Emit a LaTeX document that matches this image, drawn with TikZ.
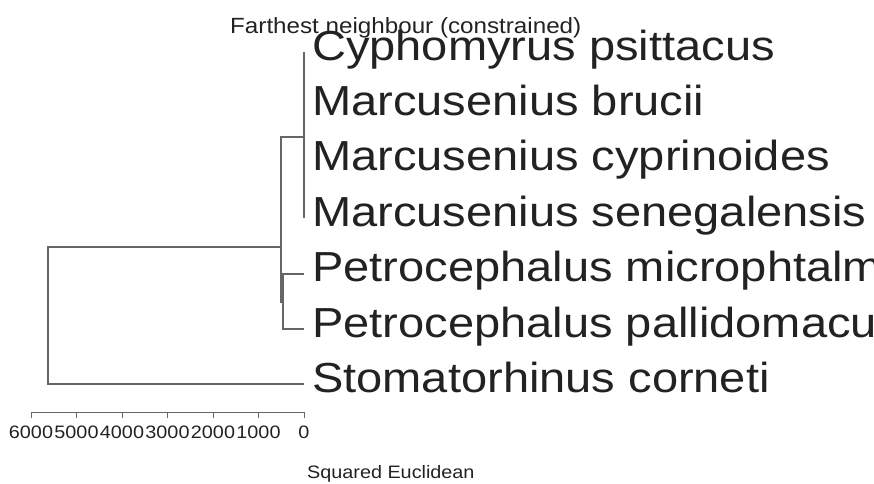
\documentclass[tikz,border=0pt]{standalone}
\usepackage{fontspec}
\setmainfont{Liberation Sans}[FakeStretch=1.1]
\newfontfamily\leaffont{Liberation Sans}[FakeStretch=1.12]
\definecolor{txt}{HTML}{222222}
\definecolor{ln}{HTML}{666666}
\tikzset{
  leaflab/.style={anchor=base west, inner sep=0pt, text=txt, font=\leaffont\fontsize{42}{42}\selectfont},
  ticklab/.style={anchor=base, inner sep=0pt, text=txt, font=\fontsize{18}{18}\selectfont},
  smalllab/.style={anchor=base west, inner sep=0pt, text=txt, font=\fontsize{18}{18}\selectfont},
  titlelab/.style={anchor=base west, inner sep=0pt, text=txt, font=\fontsize{22}{22}\selectfont},
  branch/.style={draw=ln, line width=1.1pt},
}
\begin{document}
\begin{tikzpicture}[x=1pt,y=-1pt]
\useasboundingbox (0,0) rectangle (874,483);
\clip (0,0) rectangle (874,483);
% title
\node[titlelab] (title) at (230,33) {Farthest neighbour (constrained)};
% leaf labels
\node[leaflab] (lab1) at (312,60) {Cyphomyrus psittacus};
\node[leaflab] (lab2) at (312,115) {Marcusenius brucii};
\node[leaflab] (lab3) at (312,170.5) {Marcusenius cyprinoides};
\node[leaflab] (lab4) at (312,226) {Marcusenius senegalensis};
\node[leaflab] (lab5) at (312,281.5) {Petrocephalus microphtalm};
\node[leaflab] (lab6) at (312,337) {Petrocephalus pallidomacu};
\node[leaflab] (lab7) at (312,392) {Stomatorhinus corneti};
% leaf points
\coordinate (L1) at (304,52);
\coordinate (L4) at (304,218);
\coordinate (L5) at (304,274);
\coordinate (L6) at (304,329);
\coordinate (L7) at (304,384);
% internal nodes
\coordinate (M) at (304,137);
\coordinate (P) at (283,302);
\coordinate (A) at (281,247);
\coordinate (R) at (48,315);
\draw[branch] (L1) -- (L4);
\draw[branch] (L5) -| (P) |- (L6);
\draw[branch] (M) -| (A) |- (P);
\draw[branch] (A) -| (R) |- (L7);
% axis
\coordinate (ax0) at (31,412);
\coordinate (ax1) at (304,412);
\draw[branch, line width=1pt] (ax0) -- (ax1);
\foreach \v [count=\i from 0] in {6000,5000,4000,3000,2000,1000,0} {
  \coordinate (t\i) at ({31+\i*45.5},412);
  \draw[branch, line width=1pt] (t\i) -- ++(0,6);
  \node[ticklab] (tl\i) at ({31+\i*45.5},438) {\v};
}
\node[smalllab] (xlab) at (307,478) {Squared Euclidean};
\end{tikzpicture}
\end{document}
